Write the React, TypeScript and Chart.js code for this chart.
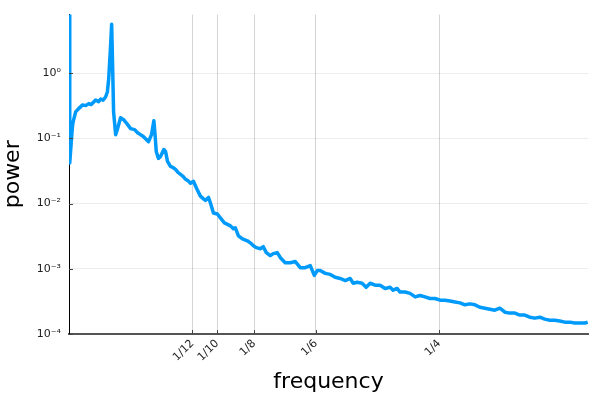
import React, { useEffect, useRef } from "react";
import { Chart, registerables } from "chart.js";

Chart.register(...registerables);

const freq = [
  0, 0.0005, 0.0023, 0.0028, 0.0045, 0.0065, 0.0092, 0.0113, 0.0133, 0.015,
  0.018, 0.02, 0.0214, 0.023, 0.0247, 0.0259, 0.0268, 0.0281, 0.0288, 0.0294,
  0.0301, 0.0315, 0.0328, 0.0348, 0.0369, 0.0382, 0.0396, 0.0416, 0.0443, 0.0463,
  0.0483, 0.05, 0.0517, 0.0537, 0.0557, 0.0573, 0.0581, 0.0589, 0.0604, 0.0618,
  0.064, 0.0652, 0.0665, 0.0685, 0.07, 0.0719, 0.0736, 0.0753, 0.077, 0.0786,
  0.0803, 0.082, 0.084, 0.0861, 0.0887, 0.0908, 0.0921, 0.0942, 0.0955, 0.0975,
  0.1002, 0.1022, 0.1049, 0.107, 0.109, 0.111, 0.1123, 0.1144, 0.1171, 0.1204,
  0.1224, 0.1245, 0.1265, 0.1292, 0.1312, 0.1332, 0.1359, 0.1379, 0.1406, 0.1427,
  0.146, 0.1494, 0.1528, 0.1561, 0.1595, 0.1629, 0.1656, 0.1676, 0.1696, 0.173,
  0.1764, 0.1797, 0.1831, 0.1865, 0.1898, 0.1919, 0.1946, 0.1979, 0.2006, 0.2033,
  0.2067, 0.21, 0.2134, 0.2168, 0.2188, 0.2215, 0.2235, 0.2269, 0.2303, 0.2337,
  0.237, 0.2404, 0.2437, 0.2471, 0.2505, 0.2538, 0.2572, 0.2606, 0.264, 0.2673,
  0.2707, 0.2741, 0.2774, 0.2808, 0.2842, 0.2875, 0.2909, 0.2943, 0.2976, 0.301,
  0.3044, 0.3077, 0.3111, 0.3145, 0.3179, 0.3212, 0.3246, 0.328, 0.3313, 0.3347,
  0.3381, 0.3414, 0.3448, 0.3482, 0.3502,
];

const power = [
  30, 0.042, 0.151, 0.18, 0.255, 0.286, 0.326, 0.318, 0.341, 0.33,
  0.388, 0.365, 0.402, 0.385, 0.431, 0.514, 0.819, 2.67, 5.62, 1.47,
  0.255, 0.114, 0.141, 0.207, 0.193, 0.178, 0.162, 0.141, 0.136, 0.122,
  0.114, 0.108, 0.099, 0.089, 0.114, 0.186, 0.114, 0.0629, 0.0492, 0.0528,
  0.0674, 0.0629, 0.0443, 0.0372, 0.036, 0.0335, 0.03, 0.0281, 0.0262, 0.0236,
  0.0225, 0.0205, 0.022, 0.0172, 0.013, 0.0118, 0.0112, 0.0124, 0.0102, 0.00717,
  0.00692, 0.00602, 0.00505, 0.0048, 0.00455, 0.0041, 0.00425, 0.0032, 0.00288, 0.00269,
  0.0025, 0.00226, 0.00211, 0.00203, 0.00218, 0.00177, 0.00159, 0.00171, 0.00177, 0.00148,
  0.00124, 0.00124, 0.00129, 0.00104, 0.00104, 0.00112, 0.00079, 0.00094, 0.00094, 0.00085,
  0.00082, 0.00074, 0.00071, 0.00066, 0.00071, 0.0006, 0.00062, 0.0006, 0.00052, 0.0006,
  0.00056, 0.00056, 0.0005, 0.00052, 0.00047, 0.0005, 0.00044, 0.00044, 0.00042, 0.00037,
  0.00039, 0.00037, 0.00035, 0.00035, 0.00033, 0.00033, 0.00032, 0.00031, 0.0003, 0.00028,
  0.00029, 0.00028, 0.000257, 0.000249, 0.00024, 0.000232, 0.000249, 0.000216, 0.000209, 0.000209,
  0.000195, 0.000195, 0.000181, 0.000175, 0.000181, 0.000169, 0.000163, 0.000163, 0.000158, 0.000152,
  0.000152, 0.000147, 0.000147, 0.000147, 0.000152,
];

const xTickValues = [1 / 12, 1 / 10, 1 / 8, 1 / 6, 1 / 4];
const xTickLabels = ["1/12", "1/10", "1/8", "1/6", "1/4"];
const yTickValues = [1e-4, 1e-3, 1e-2, 1e-1, 1];
const yTickLabels = ["10⁻⁴", "10⁻³", "10⁻²", "10⁻¹", "10⁰"];

const X_MIN = 0;
const X_MAX = 0.3504;
const Y_MIN = 1e-4;
const Y_MAX = 7.9;

const FONT = "'DejaVu Sans', sans-serif";

const innerTicks = {
  id: "innerTicks",
  afterDatasetsDraw(chart: any) {
    const { ctx, chartArea, scales } = chart;
    ctx.save();
    ctx.strokeStyle = "#444";
    ctx.lineWidth = 1;
    for (const v of yTickValues) {
      const y = Math.round(scales.y.getPixelForValue(v)) + 0.5;
      ctx.beginPath();
      ctx.moveTo(chartArea.left, y);
      ctx.lineTo(chartArea.left + 4, y);
      ctx.stroke();
    }
    for (const v of xTickValues) {
      const x = Math.round(scales.x.getPixelForValue(v)) + 0.5;
      ctx.beginPath();
      ctx.moveTo(x, chartArea.bottom);
      ctx.lineTo(x, chartArea.bottom - 4);
      ctx.stroke();
    }
    ctx.restore();
  },
};

export default function App() {
  const ref = useRef<HTMLCanvasElement | null>(null);

  useEffect(() => {
    document.body.style.margin = "0";
    const canvas = ref.current;
    if (!canvas) return;
    const chart = new Chart(canvas, {
      type: "line",
      data: {
        datasets: [
          {
            data: freq.map((f, i) => ({ x: f, y: power[i] })),
            borderColor: "#009AFA",
            borderWidth: 3.5,
            borderJoinStyle: "round",
            pointRadius: 0,
            tension: 0,
            fill: false,
          },
        ],
      },
      options: {
        responsive: false,
        animation: false,
        events: [],
        layout: { padding: { left: 0, top: 12, right: 12, bottom: 0 } },
        plugins: {
          legend: { display: false },
          tooltip: { enabled: false },
        },
        scales: {
          x: {
            type: "linear",
            min: X_MIN,
            max: X_MAX,
            afterBuildTicks: (scale: any) => {
              scale.ticks = xTickValues.map((v) => ({ value: v }));
            },
            afterFit: (scale: any) => {
              scale.height = 66;
            },
            ticks: {
              autoSkip: false,
              minRotation: 45,
              maxRotation: 45,
              padding: 3,
              color: "#222",
              font: { family: FONT, size: 11 },
              callback: (v: any) => {
                const i = xTickValues.findIndex((t) => Math.abs(t - v) < 1e-9);
                return i >= 0 ? xTickLabels[i] : "";
              },
            },
            grid: {
              color: "rgba(0,0,0,0.17)",
              lineWidth: 1,
              drawTicks: false,
            },
            border: { color: "#555", width: 2 },
            title: {
              display: true,
              text: "frequency",
              color: "#000",
              font: { family: FONT, size: 22 },
              padding: { top: 0, bottom: 5 },
            },
          },
          y: {
            type: "logarithmic",
            min: Y_MIN,
            max: Y_MAX,
            afterBuildTicks: (scale: any) => {
              scale.ticks = yTickValues.map((v) => ({ value: v }));
            },
            afterFit: (scale: any) => {
              scale.width = 69;
            },
            ticks: {
              autoSkip: false,
              padding: 8,
              color: "#222",
              font: { family: FONT, size: 11 },
              callback: (v: any) => {
                const i = yTickValues.findIndex((t) => Math.abs(t - v) / t < 1e-6);
                return i >= 0 ? yTickLabels[i] : "";
              },
            },
            grid: {
              color: "rgba(0,0,0,0.07)",
              lineWidth: 1,
              drawTicks: false,
            },
            border: { color: "#000", width: 1 },
            title: {
              display: true,
              text: "power",
              color: "#000",
              font: { family: FONT, size: 22 },
              padding: { top: 0, bottom: 0 },
            },
          },
        },
      },
      plugins: [innerTicks],
    } as any);
    return () => chart.destroy();
  }, []);

  return (
    <canvas
      ref={ref}
      width={600}
      height={400}
      style={{ display: "block", width: 600, height: 400 }}
    />
  );
}
